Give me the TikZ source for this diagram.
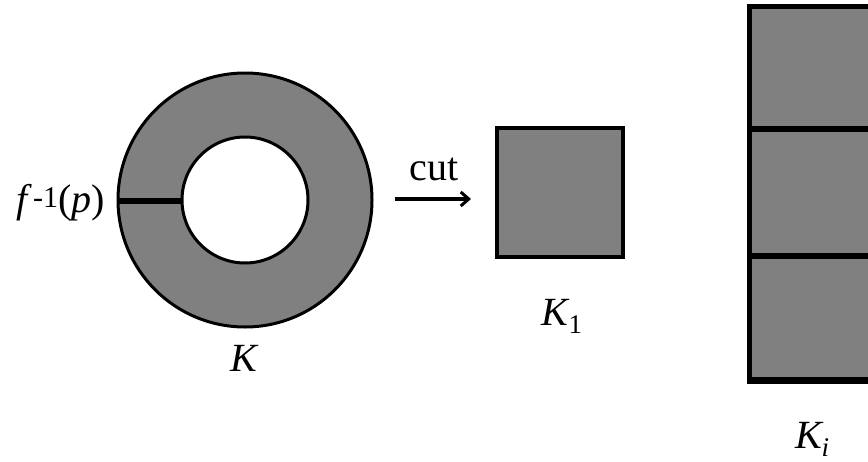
\documentclass[tikz,border=0pt]{standalone}
\usepackage{fontspec}
\setmainfont{Liberation Serif}
\usetikzlibrary{arrows.meta}
\definecolor{fillgray}{HTML}{808080}
\tikzset{
  lbl/.style={inner sep=0pt, font=\fontsize{40}{44}\selectfont},
  piece/.style={fill=fillgray, draw=black, line width=4.5pt},
  cutline/.style={line width=6pt},
}
\newcommand{\subsz}{\fontsize{27}{30}\selectfont}
\newcommand{\supsz}{\fontsize{30}{33}\selectfont}
\begin{document}
\begin{tikzpicture}[x=1pt,y=-1pt]
\useasboundingbox (0,0) rectangle (868,461);
\clip (0,0) rectangle (868,461);
% annulus
\coordinate (c) at (245,200);
\fill[fillgray, even odd rule] (c) circle[radius=127pt] (c) circle[radius=63pt];
\draw[line width=3pt] (c) circle[radius=127pt];
\draw[line width=3pt] (c) circle[radius=63pt];
\coordinate (s1) at (118,201);
\coordinate (s2) at (182,201);
\draw[cutline] (s1) -- (s2);
\node[lbl, anchor=base east] (fp) at (105,212) {\textit{f}\kern1pt\raisebox{5pt}{\supsz -1}(\textit{p})};
\node[lbl, anchor=base] (K) at (245,371) {\textit{K}};
% arrow
\coordinate (a1) at (395,199);
\coordinate (a2) at (471,199);
\draw[line width=3.2pt, -{Straight Barb[length=8pt,width=14pt,line width=3pt]}] (a1) -- (a2);
\node[lbl, anchor=base] (cut) at (434,180) {cut};
% square K1
\draw[piece] (497,128) rectangle (623,257);
\node[lbl, anchor=base west] (K1) at (541,325) {\textit{K}\kern-1pt\raisebox{-8pt}{\subsz 1}};
% column Ki
\draw[piece] (749.5,6.5) rectangle (890,380);
\draw[line width=7pt] (747,380.5) -- (890,380.5);
\coordinate (d1l) at (749,129);
\coordinate (d1r) at (890,129);
\coordinate (d2l) at (749,256);
\coordinate (d2r) at (890,256);
\draw[cutline] (d1l) -- (d1r);
\draw[cutline] (d2l) -- (d2r);
\node[lbl, anchor=base west] (Ki) at (795,448) {\textit{K}\kern-2pt\raisebox{-8pt}{\subsz\textit{i}}};
\end{tikzpicture}
\end{document}
